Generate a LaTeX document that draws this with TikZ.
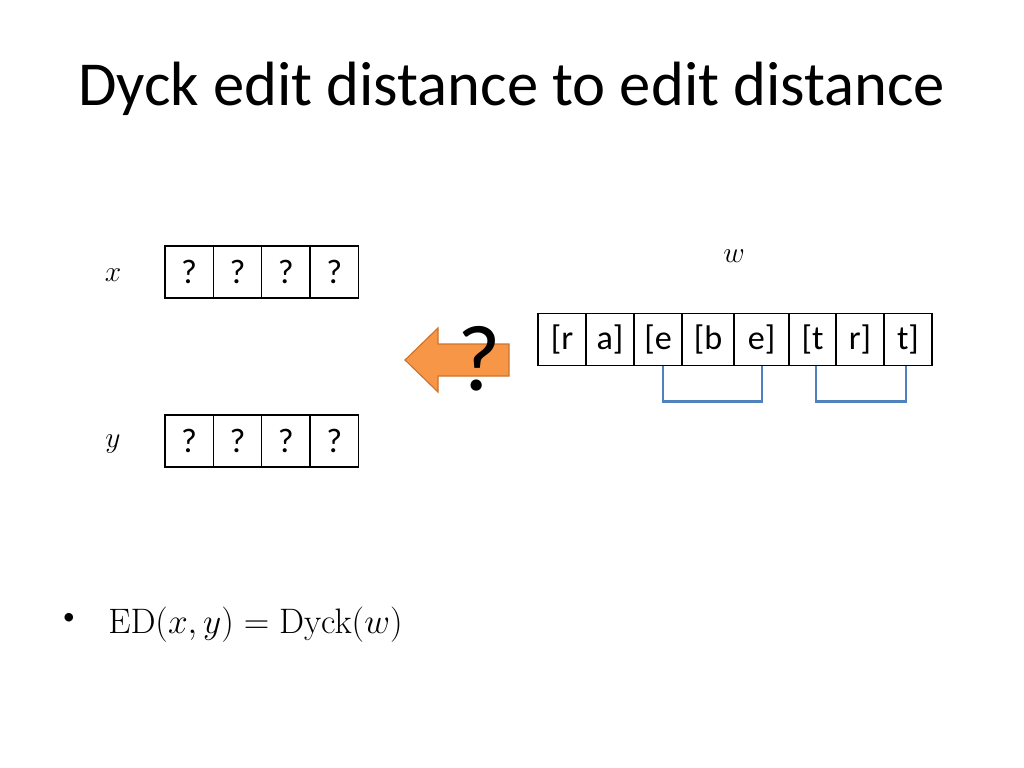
\documentclass[tikz,border=0pt]{standalone}
\usepackage[no-math]{fontspec}
\setmainfont{Carlito}
\usetikzlibrary{calc}
\definecolor{bracketblue}{RGB}{79,129,189}
\definecolor{arrowfill}{RGB}{247,150,70}
\definecolor{arrowedge}{RGB}{205,115,45}
\tikzset{
  cellbox/.style={draw=black, line width=1.1pt, inner sep=0pt, minimum height=52*0.703125pt,
    font=\fontsize{24}{28}\selectfont},
  bracketline/.style={draw=bracketblue, line width=1.8pt},
  mathlabel/.style={anchor=base, inner sep=0pt, font=\fontsize{22}{26}\selectfont},
  orangearrow/.style={fill=arrowfill, draw=arrowedge, line width=0.8pt, line join=miter}
}
\begin{document}
\begin{tikzpicture}[x=0.703125pt, y=-0.703125pt]
\useasboundingbox[fill=white] (0,0) rectangle (1024,768);

% title
\node[anchor=base, inner sep=0pt, font=\fontsize{44}{50}\selectfont] (title) at (511.7,106) {Dyck edit distance to edit distance};

% x row
\node[mathlabel] (xl) at (113,281.5) {$x$};
\foreach \i/\cx in {1/189.1, 2/237.5, 3/285.9, 4/334.3}{
  \node[cellbox, minimum width=48.4*0.703125pt] (x\i) at (\cx,272) {?};
}
% y row
\node[mathlabel] (yl) at (113,447) {$y$};
\foreach \i/\cx in {1/189.1, 2/237.5, 3/285.9, 4/334.3}{
  \node[cellbox, minimum width=48.4*0.703125pt] (y\i) at (\cx,441) {?};
}

% w row
\node[mathlabel] (wl) at (734,263) {$w$};
\node[cellbox, minimum width=48*0.703125pt] (w1) at (562,339.5) {[r};
\node[cellbox, minimum width=48*0.703125pt] (w2) at (610,339.5) {a]};
\node[cellbox, minimum width=48*0.703125pt] (w3) at (658,339.5) {[e};
\node[cellbox, minimum width=52*0.703125pt] (w4) at (708,339.5) {[b};
\node[cellbox, minimum width=55*0.703125pt] (w5) at (761.5,339.5) {e]};
\node[cellbox, minimum width=47*0.703125pt] (w6) at (812.5,339.5) {[t};
\node[cellbox, minimum width=48*0.703125pt] (w7) at (860,339.5) {r]};
\node[cellbox, minimum width=48*0.703125pt] (w8) at (908,339.5) {t]};

% matching brackets
\draw[bracketline] ($(w3.south)+(5,0)$) -- ++(0,35) -| ($(w5.south)+(0.5,0)$);
\draw[bracketline] ($(w6.south)+(3.5,0)$) -- ++(0,35) -| ($(w8.south)+(-2,0)$);

% orange arrow
\draw[orangearrow] (405,360) -- (438,328) -- (438,344) -- (509,344) -- (509,376) -- (438,376) -- (438,392) -- cycle;
\node[anchor=base, inner sep=0pt, font=\fontsize{66}{70}\selectfont] (qm) at (479,390) {?};

% bullet
\node[anchor=base, inner sep=0pt, font=\fontsize{17}{20}\selectfont] (bul) at (69,624) {•};
\node[anchor=base west, inner sep=0pt, font=\fontsize{23}{27}\selectfont] (eq) at (108,633) {$\mathrm{ED}(x,y)=\mathrm{Dyck}(w)$};
\end{tikzpicture}
\end{document}
